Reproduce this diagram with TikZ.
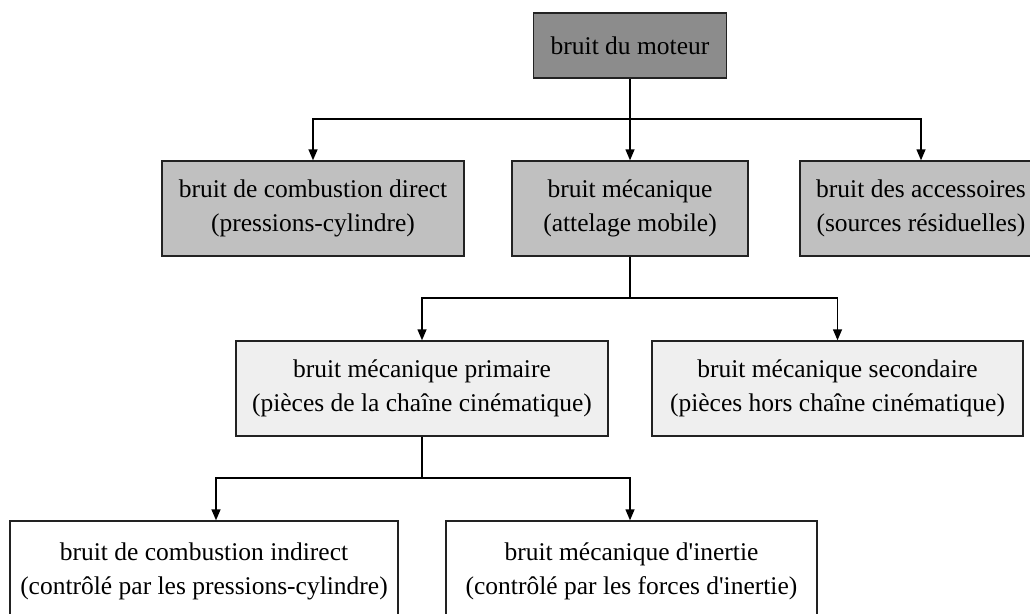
\documentclass[tikz,border=0pt]{standalone}
\usepackage{fontspec}
\setmainfont{Liberation Serif}[Ligatures=TeXOff]
\usetikzlibrary{arrows.meta}
\definecolor{lvA}{HTML}{8C8C8C}
\definecolor{lvB}{HTML}{C0C0C0}
\definecolor{lvC}{HTML}{EFEFEF}
\definecolor{edge}{HTML}{222222}
\newcommand{\twolines}[2]{\raisebox{5pt}{\begin{tabular}{@{}c@{}}#1\\#2\end{tabular}}}
\tikzset{
  box/.style={draw=edge, line width=1.4pt, rectangle, align=center, inner sep=0pt,
    font=\fontsize{25.5}{34}\selectfont},
  conn/.style={draw=black, line width=1.4pt},
  arr/.style={conn, -{Triangle[length=11pt,width=9pt]}},
}
\begin{document}
\begin{tikzpicture}[x=1pt,y=-1pt]
\useasboundingbox (0,0) rectangle (1030,613);
\clip (0,0) rectangle (1030,613);
\fill[white] (0,0) rectangle (1030,613);
% level 1
\node[box, fill=lvA, minimum width=193pt, minimum height=65pt] (top) at (630,45.5) {bruit du moteur};
% level 2
\node[box, fill=lvB, minimum width=302pt, minimum height=95pt] (A) at (313,208.5) {bruit de combustion direct\\(pressions-cylindre)};
\node[box, fill=lvB, minimum width=236pt, minimum height=95pt] (B) at (630,208.5) {bruit mécanique\\(attelage mobile)};
\node[box, fill=lvB, minimum width=242pt, minimum height=95pt] (C) at (921,208.5) {bruit des accessoires\\(sources résiduelles)};
% level 3
\node[box, fill=lvC, minimum width=372pt, minimum height=95pt] (D) at (422,388.5) {bruit mécanique primaire\\(pièces de la chaîne cinématique)};
\node[box, fill=lvC, minimum width=371pt, minimum height=95pt] (E) at (837.5,388.5) {bruit mécanique secondaire\\(pièces hors chaîne cinématique)};
% level 4
\node[box, fill=white, minimum width=388pt, minimum height=100pt] (F) at (204,571) {\twolines{bruit de combustion indirect}{(contrôlé par les pressions-cylindre)}};
\node[box, fill=white, minimum width=371pt, minimum height=100pt] (G) at (631.5,571) {\twolines{bruit mécanique d'inertie}{(contrôlé par les forces d'inertie)}};
% junctions
\coordinate (j1) at (630,119);
\coordinate (j2) at (630,298);
\coordinate (j3) at (422,478);
% connectors
\draw[conn] (top.south) -- (j1);
\draw[arr] (j1) -| (A.north);
\draw[arr] (j1) -- (B.north);
\draw[arr] (j1) -| (C.north);
\draw[conn] (B.south) -- (j2);
\draw[arr] (j2) -| (D.north);
\draw[arr] (j2) -| (E.north);
\draw[conn] (D.south) -- (j3);
\draw[arr] (j3) -| ([xshift=12pt]F.north);
\draw[arr] (j3) -| ([xshift=-1.5pt]G.north);
\end{tikzpicture}
\end{document}
